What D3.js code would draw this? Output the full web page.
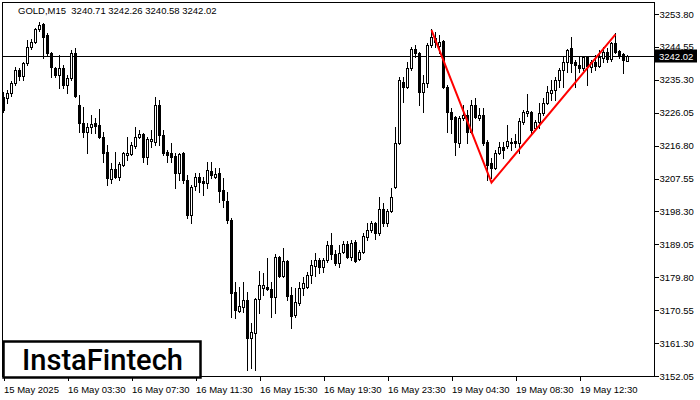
<!DOCTYPE html>
<html><head><meta charset="utf-8">
<script src="https://cdn.jsdelivr.net/npm/d3@7"></script>
<style>html,body{margin:0;padding:0;background:#fff;}svg{display:block;}</style>
</head><body>
<svg id="c" width="700" height="400"></svg>
<script>
const symbolTitle = "GOLD,M15  3240.71 3242.26 3240.58 3242.02";
const lastPrice = 3242.02;
const open = [3230.47,3230.19,3231.60,3234.41,3238.06,3236.37,3240.02,3244.52,3245.93,3249.58,
3250.99,3247.90,3242.84,3238.62,3236.65,3238.62,3233.84,3235.81,3242.84,3228.22,
3223.16,3220.63,3222.04,3223.16,3222.60,3219.22,3215.01,3207.42,3210.22,3207.98,
3211.35,3214.16,3214.44,3216.69,3219.22,3220.07,3213.60,3218.10,3217.82,3228.22,
3219.79,3215.01,3214.72,3213.88,3209.10,3214.72,3207.14,3197.30,3205.45,3207.98,
3206.85,3206.29,3209.66,3207.98,3209.10,3204.33,3201.24,3195.90,3175.66,3170.32,
3171.44,3173.41,3162.73,3164.13,3173.69,3176.78,3177.06,3176.50,3174.25,3185.49,
3180.15,3184.37,3174.82,3169.19,3172.57,3176.78,3177.06,3180.43,3182.96,3184.65,
3182.68,3184.65,3188.87,3186.34,3183.81,3186.90,3189.15,3185.49,3189.71,3184.93,
3186.90,3191.12,3193.09,3195.05,3192.24,3198.99,3195.05,3198.42,3205.17,3217.54,
3234.69,3233.28,3238.62,3243.96,3242.84,3231.88,3234.41,3245.09,3247.05,3244.81,
3246.21,3233.28,3226.25,3224.85,3217.54,3224.57,3225.41,3220.63,3228.22,3224.57,
3225.41,3217.82,3211.91,3210.51,3214.72,3216.41,3216.69,3217.82,3218.10,3217.54,
3223.44,3225.97,3226.25,3221.76,3223.44,3225.97,3228.79,3231.60,3232.44,3235.25,
3238.06,3240.30,3244.24,3240.30,3239.46,3238.62,3241.71,3238.90,3240.30,3239.18,
3241.43,3243.12,3241.15,3245.65,3243.40,3242.55,3240.71];
const high = [3231.88,3232.44,3234.97,3238.90,3238.62,3240.30,3246.49,3246.77,3249.87,3251.55,
3251.27,3248.46,3243.12,3238.90,3242.27,3239.46,3236.65,3243.68,3244.24,3231.03,
3227.66,3223.16,3225.41,3224.57,3227.10,3220.63,3216.97,3211.91,3215.01,3212.19,
3215.01,3219.22,3217.82,3222.04,3221.19,3220.35,3219.22,3221.19,3230.47,3229.63,
3221.19,3215.57,3217.54,3214.72,3214.72,3215.01,3208.54,3205.73,3209.10,3209.10,
3207.98,3212.19,3212.19,3210.51,3210.51,3207.70,3203.76,3196.46,3178.47,3177.06,
3178.47,3175.66,3166.94,3173.97,3181.56,3181.00,3185.21,3178.47,3186.34,3185.77,
3188.02,3184.65,3177.06,3176.78,3178.47,3179.87,3181.28,3184.65,3186.62,3185.21,
3185.21,3189.99,3192.24,3187.46,3188.87,3189.99,3189.99,3190.27,3190.27,3187.46,
3192.24,3195.05,3195.62,3195.33,3202.36,3200.67,3198.99,3204.89,3222.04,3236.09,
3236.09,3240.30,3244.52,3245.09,3243.12,3236.65,3245.65,3249.58,3248.74,3247.90,
3246.49,3233.84,3227.38,3225.13,3225.13,3228.22,3226.82,3229.63,3230.19,3227.38,
3227.38,3218.38,3213.32,3215.57,3217.82,3217.82,3222.60,3218.94,3220.07,3224.57,
3226.82,3231.31,3226.54,3224.00,3228.79,3230.19,3233.56,3235.25,3236.09,3238.62,
3241.71,3243.96,3247.34,3240.87,3241.71,3241.99,3241.99,3240.87,3242.27,3243.68,
3244.52,3244.24,3245.93,3248.46,3243.68,3242.84,3242.26];
const low = [3226.25,3228.79,3230.75,3233.84,3235.25,3235.25,3239.46,3243.96,3245.65,3249.02,
3241.43,3242.27,3236.09,3236.09,3233.00,3233.00,3231.60,3235.25,3230.47,3220.63,
3219.22,3214.72,3220.35,3220.35,3218.94,3212.19,3205.73,3206.29,3207.70,3207.14,
3211.07,3212.76,3214.16,3216.13,3218.94,3212.19,3211.63,3216.41,3216.97,3216.97,
3214.16,3212.19,3212.19,3204.89,3207.14,3206.29,3196.46,3195.05,3204.33,3203.76,
3202.92,3204.89,3207.70,3207.70,3200.95,3199.55,3195.05,3168.63,3168.35,3170.04,
3170.04,3153.74,3154.16,3153.74,3169.76,3174.82,3176.22,3168.63,3169.76,3179.87,
3179.87,3173.41,3165.54,3168.63,3172.00,3174.82,3176.78,3178.19,3180.15,3181.00,
3181.28,3184.09,3184.93,3183.25,3182.68,3186.62,3185.21,3184.65,3184.09,3184.65,
3186.62,3190.27,3192.52,3190.56,3191.68,3194.21,3194.21,3198.14,3204.89,3217.26,
3229.07,3233.00,3238.06,3241.71,3228.22,3226.25,3233.28,3244.52,3244.52,3242.84,
3233.00,3220.63,3220.35,3214.16,3216.41,3224.00,3217.54,3220.35,3224.57,3224.00,
3216.97,3207.14,3207.70,3210.22,3214.44,3213.32,3216.13,3215.57,3216.41,3214.72,
3222.88,3225.13,3220.35,3221.19,3221.76,3225.41,3228.50,3229.63,3229.63,3233.28,
3233.28,3237.49,3237.49,3233.28,3237.49,3238.06,3233.84,3237.49,3238.06,3238.90,
3240.30,3240.30,3240.59,3242.84,3241.43,3237.21,3240.58];
const close = [3226.82,3231.60,3234.41,3238.06,3236.37,3240.02,3244.52,3245.93,3249.58,3250.71,
3247.34,3242.84,3238.90,3236.65,3238.62,3233.84,3235.81,3242.84,3230.75,3223.16,
3220.63,3222.04,3222.88,3222.32,3219.22,3214.72,3207.70,3210.22,3207.98,3211.63,
3214.72,3214.72,3216.97,3219.22,3220.07,3213.60,3218.66,3218.66,3228.22,3219.79,
3214.72,3214.16,3213.60,3209.10,3214.44,3207.14,3197.30,3205.17,3207.98,3206.57,
3206.29,3209.94,3208.54,3208.82,3204.04,3201.52,3195.90,3175.38,3170.60,3171.72,
3173.41,3162.73,3164.41,3173.69,3177.63,3177.63,3176.50,3174.25,3185.49,3180.15,
3184.37,3174.53,3168.91,3172.85,3176.78,3178.19,3180.43,3183.25,3184.65,3182.68,
3184.65,3188.87,3186.34,3183.81,3186.62,3189.15,3185.49,3189.43,3184.37,3186.90,
3191.40,3193.09,3195.05,3192.24,3198.99,3195.05,3198.42,3202.36,3217.54,3235.25,
3233.28,3238.62,3243.96,3242.84,3231.88,3234.41,3245.09,3247.34,3245.93,3245.93,
3233.28,3226.25,3224.29,3217.82,3224.57,3225.41,3220.63,3228.22,3224.85,3225.41,
3217.54,3211.35,3210.51,3214.72,3216.41,3215.57,3218.10,3217.54,3217.54,3223.72,
3226.25,3226.54,3221.19,3223.44,3225.97,3228.79,3231.88,3232.44,3235.25,3238.06,
3240.30,3243.68,3240.02,3239.46,3238.62,3241.71,3239.18,3240.30,3239.18,3241.71,
3243.12,3241.15,3245.65,3243.12,3242.27,3240.87,3242.02];
const priceTicks = [3253.80,3244.55,3235.30,3226.05,3216.80,3207.55,3198.30,3189.05,3179.80,3170.55,3161.30,3152.05];
const timeTickIdx = [0,16,32,48,64,80,96,112,128,144];
const timeTickLabels = ["15 May 2025","16 May 03:30","16 May 07:30","16 May 11:30","16 May 15:30","16 May 19:30","16 May 23:30","19 May 04:30","19 May 08:30","19 May 12:30"];
const patternIdx = [107, 122, 153];
const patternPrice = [3249.3, 3206.4, 3248.1];

const svg = d3.select("#c");
const FONT = "'Liberation Sans', Arial, sans-serif";
const L = 2, R = 654, T = 2, B = 376;
const x = d3.scaleLinear().domain([0, 156]).range([3.5, 627.5]);
const y = d3.scaleLinear().domain([3152.05, 3253.80]).range([376, 14]);
const py = v => Math.round(y(v)) + 0.5;

// price line
svg.append("line").attr("x1", L).attr("x2", R).attr("y1", py(lastPrice)).attr("y2", py(lastPrice))
  .attr("stroke", "#000").attr("stroke-width", 1).attr("shape-rendering", "crispEdges");

// candles
const idx = d3.range(open.length);
const g = svg.append("g");
idx.forEach(i => {
  const cx = x(i);
  g.append("line").attr("x1", cx).attr("x2", cx).attr("y1", Math.round(y(high[i]))).attr("y2", Math.round(y(low[i])) + 1)
    .attr("stroke", "#000").attr("stroke-width", 1).attr("shape-rendering", "crispEdges");
  const yo = Math.round(y(open[i])), yc = Math.round(y(close[i]));
  const top = Math.min(yo, yc), bot = Math.max(yo, yc);
  const bull = close[i] >= open[i];
  g.append("rect").attr("x", cx - 1).attr("y", top + 0.5).attr("width", 2).attr("height", Math.max(bot - top, 0))
    .attr("fill", bull ? "#fff" : "#000").attr("stroke", "#000").attr("stroke-width", 1)
    .attr("shape-rendering", "crispEdges");
});

// pattern lines
svg.append("path")
  .attr("d", d3.line().x(d => x(d[0])).y(d => y(d[1]))(patternIdx.map((d, k) => [d, patternPrice[k]])))
  .attr("fill", "none").attr("stroke", "#ff0000").attr("stroke-width", 2);

// border
svg.append("rect").attr("x", L + 0.5).attr("y", T + 0.5).attr("width", R - L).attr("height", B - T)
  .attr("fill", "none").attr("stroke", "#000").attr("stroke-width", 1).attr("shape-rendering", "crispEdges");

// right axis
const ya = svg.append("g").attr("transform", `translate(${R + 0.5},0)`)
  .call(d3.axisRight(y).tickValues(priceTicks).tickSize(4).tickPadding(1).tickFormat(d3.format(".2f")));
ya.select(".domain").remove();
ya.selectAll("line").attr("stroke", "#000").attr("shape-rendering", "crispEdges");
ya.selectAll("text").attr("font-family", FONT).attr("font-size", "9.5px").attr("fill", "#000");

// bottom axis
const xa = svg.append("g").attr("transform", `translate(0,${B + 0.5})`)
  .call(d3.axisBottom(x).tickValues(timeTickIdx).tickSize(4).tickPadding(6).tickFormat((d, k) => timeTickLabels[k]));
xa.select(".domain").remove();
xa.selectAll("line").attr("stroke", "#000").attr("shape-rendering", "crispEdges");
xa.selectAll("text").attr("font-family", FONT).attr("font-size", "9.5px").attr("fill", "#000")
  .attr("text-anchor", "start").attr("x", 0);

// last price label
const lp = py(lastPrice);
svg.append("rect").attr("x", R).attr("y", lp - 7).attr("width", 43).attr("height", 13).attr("fill", "#000");
svg.append("text").attr("x", R + 5).attr("y", lp + 3.5).attr("font-family", FONT).attr("font-size", "9.5px")
  .attr("fill", "#fff").text(d3.format(".2f")(lastPrice));

// title
svg.append("text").attr("x", 18).attr("y", 14).attr("font-family", FONT).attr("font-size", "9.5px")
  .attr("fill", "#000").attr("xml:space", "preserve").style("white-space", "pre").text(symbolTitle);

// logo
svg.append("rect").attr("x", 3.5).attr("y", 341.5).attr("width", 197).attr("height", 36)
  .attr("fill", "#fff").attr("stroke", "#000").attr("stroke-width", 2.5);
svg.append("text").attr("x", 22).attr("y", 370).attr("font-family", "Roboto, 'Open Sans', sans-serif")
  .attr("font-size", "29px").attr("font-weight", 500).attr("fill", "#000")
  .attr("textLength", 161).attr("lengthAdjust", "spacingAndGlyphs").text("InstaFintech");
</script>
</body></html>
